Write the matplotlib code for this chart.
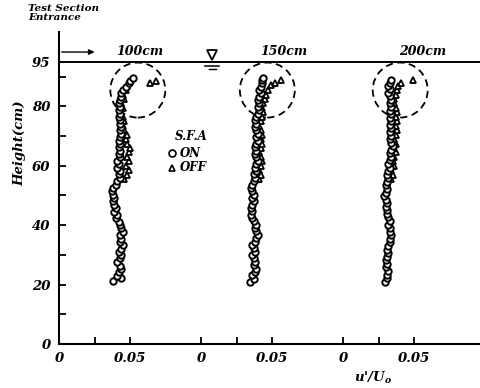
import matplotlib
matplotlib.use("Agg")
import matplotlib.pyplot as plt
from matplotlib.patches import Ellipse
import numpy as np

# ---------------- data ----------------
stations = ["100cm", "150cm", "200cm"]
offsets = [0.0, 0.1, 0.2]

h1_on = [21.2, 22.1, 23.0, 24.3, 25.2, 26.4, 27.5, 28.8, 29.9, 31.0, 32.1, 33.2, 34.4, 35.5,
         36.7, 37.8, 38.9, 40.0, 41.2, 42.3, 43.5, 44.6, 45.8, 46.9, 48.0, 49.2, 50.3, 51.5,
         52.6, 53.7, 54.9, 56.0, 57.1, 58.3, 59.4, 60.5, 61.7, 62.8, 64.0, 65.1, 66.2, 67.4,
         68.5, 69.6, 70.8, 71.9, 73.0, 74.2, 75.3, 76.5, 77.6, 78.7, 79.9, 81.0, 82.1, 83.3,
         84.4, 85.5, 86.7, 87.8, 88.6, 89.4]
u1_on = [0.038, 0.044, 0.041, 0.042, 0.044, 0.043, 0.041, 0.043, 0.044, 0.042, 0.044, 0.045, 0.043, 0.044,
         0.043, 0.045, 0.044, 0.043, 0.042, 0.040, 0.041, 0.039, 0.040, 0.039, 0.038, 0.039, 0.038, 0.037,
         0.038, 0.040, 0.041, 0.043, 0.042, 0.043, 0.041, 0.042, 0.041, 0.043, 0.042, 0.043, 0.042, 0.043,
         0.042, 0.043, 0.044, 0.043, 0.044, 0.043, 0.043, 0.042, 0.043, 0.042, 0.043, 0.042, 0.043, 0.044,
         0.044, 0.045, 0.047, 0.049, 0.050, 0.052]
h1_off = [55.5, 57.0, 58.5, 60.0, 61.5, 63.0, 64.5, 66.0, 67.5, 69.0, 70.5, 72.0, 73.5, 75.0,
          76.5, 78.0, 79.5, 81.0, 82.5, 84.0, 85.5, 87.0, 87.8, 88.6]
u1_off = [0.046, 0.048, 0.049, 0.047, 0.049, 0.048, 0.049, 0.050, 0.048, 0.047, 0.048, 0.046, 0.045, 0.046,
          0.045, 0.044, 0.045, 0.044, 0.046, 0.045, 0.047, 0.048, 0.064, 0.068]

h2_on = [20.8, 21.9, 23.1, 24.3, 25.4, 26.6, 27.7, 28.8, 30.0, 31.1, 32.2, 33.3, 34.5, 35.6,
         36.7, 37.9, 39.0, 40.1, 41.3, 42.4, 43.5, 44.7, 45.8, 46.9, 48.1, 49.2, 50.3, 51.5,
         52.6, 53.7, 54.9, 56.0, 57.1, 58.3, 59.4, 60.5, 61.7, 62.8, 63.9, 65.1, 66.2, 67.3,
         68.5, 69.6, 70.8, 71.9, 73.0, 74.2, 75.3, 76.4, 77.6, 78.7, 79.8, 81.0, 82.1, 83.2,
         84.4, 85.5, 86.6, 87.8, 88.9, 89.5]
u2_on = [0.0345, 0.037, 0.036, 0.038, 0.039, 0.037, 0.038, 0.037, 0.036, 0.038, 0.037, 0.036, 0.038, 0.039,
         0.040, 0.039, 0.038, 0.039, 0.037, 0.036, 0.035, 0.036, 0.035, 0.036, 0.037, 0.036, 0.037, 0.036,
         0.035, 0.036, 0.037, 0.038, 0.037, 0.039, 0.038, 0.039, 0.040, 0.039, 0.038, 0.039, 0.038, 0.039,
         0.040, 0.039, 0.040, 0.039, 0.038, 0.039, 0.038, 0.039, 0.040, 0.041, 0.040, 0.041, 0.040, 0.041,
         0.042, 0.041, 0.042, 0.043, 0.043, 0.044]
h2_off = [55.5, 57.0, 58.5, 60.0, 61.5, 63.0, 64.5, 66.0, 67.5, 69.0, 70.5, 72.0, 73.5, 75.0,
          76.5, 78.0, 79.5, 81.0, 82.5, 84.0, 85.5, 87.2, 87.8, 88.9]
u2_off = [0.041, 0.042, 0.041, 0.042, 0.043, 0.042, 0.041, 0.042, 0.043, 0.042, 0.043, 0.042, 0.041, 0.042,
          0.043, 0.044, 0.043, 0.044, 0.045, 0.046, 0.047, 0.049, 0.052, 0.056]

h3_on = [21.0, 22.2, 23.4, 24.6, 25.8, 27.0, 28.2, 29.4, 30.6, 31.8, 33.0, 34.2, 35.4, 36.6,
         37.8, 39.0, 40.2, 41.4, 42.6, 43.8, 45.0, 46.2, 47.4, 48.6, 49.8, 51.0, 52.2, 53.4,
         54.6, 55.8, 57.0, 58.2, 59.4, 60.6, 61.8, 63.0, 64.2, 65.4, 66.6, 67.8, 69.0, 70.2,
         71.4, 72.6, 73.8, 75.0, 76.2, 77.4, 78.6, 79.8, 81.0, 82.2, 83.4, 84.6, 85.8, 87.0,
         88.0, 88.9]
u3_on = [0.0296, 0.031, 0.0308, 0.032, 0.030, 0.031, 0.030, 0.031, 0.032, 0.031, 0.032, 0.033, 0.033, 0.034,
         0.033, 0.033, 0.032, 0.033, 0.032, 0.031, 0.031, 0.030, 0.031, 0.030, 0.029, 0.030, 0.031, 0.030,
         0.031, 0.032, 0.031, 0.032, 0.033, 0.032, 0.033, 0.034, 0.033, 0.034, 0.035, 0.034, 0.033, 0.034,
         0.033, 0.034, 0.033, 0.034, 0.033, 0.034, 0.033, 0.034, 0.033, 0.034, 0.033, 0.032, 0.033, 0.032,
         0.033, 0.034]
h3_off = [55.5, 57.0, 58.5, 60.0, 61.5, 63.0, 64.5, 66.0, 67.5, 69.0, 70.5, 72.0, 73.5, 75.0,
          76.5, 78.0, 79.5, 81.0, 82.5, 84.0, 85.5, 87.0, 87.8, 88.9]
u3_off = [0.034, 0.035, 0.034, 0.036, 0.035, 0.036, 0.037, 0.036, 0.037, 0.036, 0.037, 0.038, 0.037, 0.038,
          0.037, 0.038, 0.037, 0.036, 0.036, 0.037, 0.038, 0.039, 0.041, 0.0495]

ytick_vals = [0, 20, 40, 60, 80, 95]
ytick_minor = [10, 30, 50, 70, 90]
xtick_vals = [0, 0.05, 0.1, 0.15, 0.2, 0.25]
xtick_labels = ["0", "0.05", "0", "0.05", "0", "0.05"]
xtick_minor = [0.025, 0.125, 0.225]
circle_centers = [0.0555, 0.1467, 0.2403]
circle_y = 85.5
water_level = 95

# ---------------- figure ----------------
FONT = dict(family="DejaVu Serif", weight="bold", style="italic")

fig = plt.figure(figsize=(4.8, 3.88), dpi=100)
ax = fig.add_axes([59/480, 44/388, 421/480, 312/388])
ax.set_xlim(0, 421/1420)
ax.set_ylim(0, 312/2.97)

for sp in ["top", "right"]:
    ax.spines[sp].set_visible(False)
for sp in ["left", "bottom"]:
    ax.spines[sp].set_linewidth(1.5)

on_sets = [(h1_on, u1_on), (h2_on, u2_on), (h3_on, u3_on)]
off_sets = [(h1_off, u1_off), (h2_off, u2_off), (h3_off, u3_off)]
for off, (h, u), (ho, uo) in zip(offsets, on_sets, off_sets):
    ax.plot(np.array(uo) + off, ho, linestyle="none", marker="^", ms=4.0,
            mfc="white", mec="black", mew=1.3)
    ax.plot(np.array(u) + off, h, linestyle="none", marker="o", ms=4.6,
            mfc="white", mec="black", mew=1.4)

# dashed circles
for cx in circle_centers:
    ax.add_patch(Ellipse((cx, circle_y), 55/1420, 55/2.97, fill=False,
                         ls=(0, (4, 2.5)), lw=1.3, ec="black"))

# water surface line
ax.axhline(water_level, color="black", lw=1.4)
# water-level symbol
ax.plot([0.108], [97.2], marker="v", ms=7, mfc="white", mec="black", mew=1.3, clip_on=False)
ax.plot([0.103, 0.113], [93.6, 93.6], color="black", lw=1.1)
ax.plot([0.1055, 0.1105], [92.6, 92.6], color="black", lw=1.0)

# arrow
ax.annotate("", xy=(0.027, 98.3), xytext=(0.0, 98.3),
            arrowprops=dict(arrowstyle="-|>", color="black", lw=1.0, mutation_scale=8),
            annotation_clip=False)

# station labels
for x, s in zip([0.057, 0.158, 0.256], stations):
    ax.text(x, 98.4, s, ha="center", va="center", fontsize=9, **FONT)

# ticks
ax.set_yticks(ytick_vals)
ax.set_yticklabels([str(v) for v in ytick_vals])
ax.set_yticks(ytick_minor, minor=True)
ax.set_xticks(xtick_vals)
ax.set_xticklabels(xtick_labels)
ax.set_xticks(xtick_minor, minor=True)
ax.tick_params(which="both", direction="in", length=5, width=1.3)
ax.tick_params(axis="x", which="major", pad=6)
ax.tick_params(axis="y", which="major", pad=6)
for lab in ax.get_xticklabels() + ax.get_yticklabels():
    lab.set_fontsize(9.5)
    lab.set_fontfamily("DejaVu Serif")
    lab.set_fontweight("bold")
    lab.set_fontstyle("italic")

# legend (manual)
ax.text(0.093, 69.7, "S.F.A", ha="center", va="center", fontsize=8.5, **FONT)
ax.plot([0.0796], [64.3], marker="o", ms=5, mfc="white", mec="black", mew=1.2)
ax.text(0.0852, 64.3, "ON", ha="left", va="center", fontsize=8.5, **FONT)
ax.plot([0.0796], [59.3], marker="^", ms=5, mfc="white", mec="black", mew=1.2)
ax.text(0.0852, 59.3, "OFF", ha="left", va="center", fontsize=8.5, **FONT)

# labels
fig.text(20/480, 1 - 143/388, "Height(cm)", rotation=90, ha="center", va="center",
         fontsize=9.5, **FONT)
fig.text(373/480, 1 - 378/388, "u'/U$_\\mathregular{o}$", ha="center", va="center",
         fontsize=9.5, **FONT)
fig.text(28/480, 1 - 13/388, "Test Section\nEntrance", ha="left", va="center",
         fontsize=7.5, linespacing=0.95, **FONT)

fig.savefig("out.png", dpi=100)
